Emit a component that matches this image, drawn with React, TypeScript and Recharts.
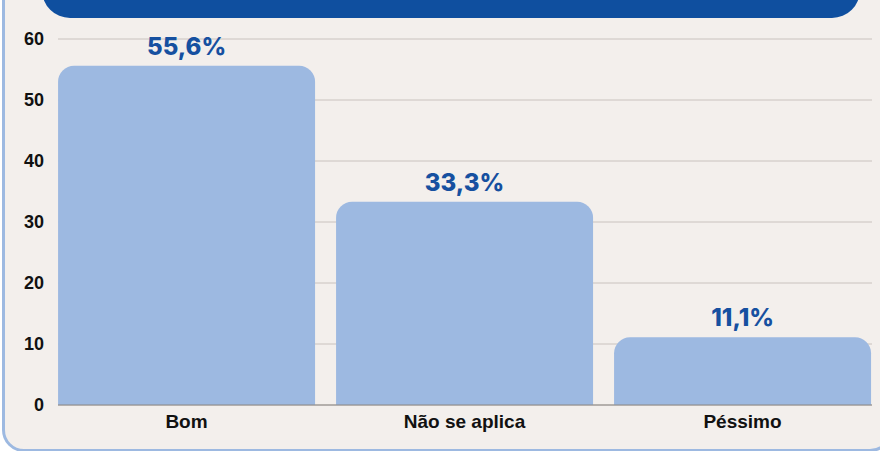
import { Bar, BarChart, CartesianGrid, LabelList, XAxis, YAxis } from "recharts";

const categories = ["Bom", "Não se aplica", "Péssimo"];
const percentages = [55.6, 33.3, 11.1];
const yTicks = [0, 10, 20, 30, 40, 50, 60];

const BAR = "#9db9e1";
const LABEL = "#1650a0";
const HEADER = "#0f4f9f";
const CARD = "#f3efec";

const data = categories.map((name, i) => ({ name, value: percentages[i] }));

export default function App() {
  return (
    <div style={{ position: "absolute", left: 0, top: 0, width: 880, height: 451, background: "#ffffff", overflow: "hidden" }}>
      {/* card with light blue border */}
      <div
        style={{
          position: "absolute",
          left: 2,
          top: -30,
          width: 884,
          height: 476,
          background: CARD,
          border: `3px solid ${BAR}`,
          borderRadius: 22,
        }}
      />
      {/* header band, title cut off above the frame */}
      <div
        style={{
          position: "absolute",
          left: 42,
          top: -40,
          width: 818,
          height: 58,
          background: HEADER,
          borderRadius: 28,
        }}
      />
      <div style={{ position: "absolute", left: 0, top: 0 }}>
        <BarChart
          width={880}
          height={451}
          data={data}
          margin={{ top: 39, right: 8, bottom: 16, left: 0 }}
          barCategoryGap="3.8%"
        >
          <CartesianGrid vertical={false} stroke="#c9c2be" strokeWidth={1} />
          <XAxis
            dataKey="name"
            height={30}
            tickLine={false}
            padding={{ left: -10.5, right: -9.5 }}
            axisLine={{ stroke: "#8a8683" }}
            tick={{ fill: "#111", fontSize: 19, fontWeight: 700, fontFamily: "Liberation Sans, Arial, sans-serif" }}
            dy={2}
          />
          <YAxis
            width={58}
            domain={[0, 60]}
            ticks={yTicks}
            tickLine={false}
            axisLine={false}
            tick={{ fill: "#111", fontSize: 18, fontWeight: 700, fontFamily: "Liberation Sans, Arial, sans-serif" }}
            dx={-6}
          />
          <Bar dataKey="value" fill={BAR} radius={[16, 16, 0, 0]} isAnimationActive={false}>
            <LabelList
              dataKey="value"
              position="top"
              offset={11}
              formatter={(v: any) => `${String(v).replace(".", ",")}%`}
              style={{ fill: LABEL, fontSize: 24, fontWeight: 800, fontFamily: "Inter, sans-serif" }}
            />
          </Bar>
        </BarChart>
      </div>
    </div>
  );
}
